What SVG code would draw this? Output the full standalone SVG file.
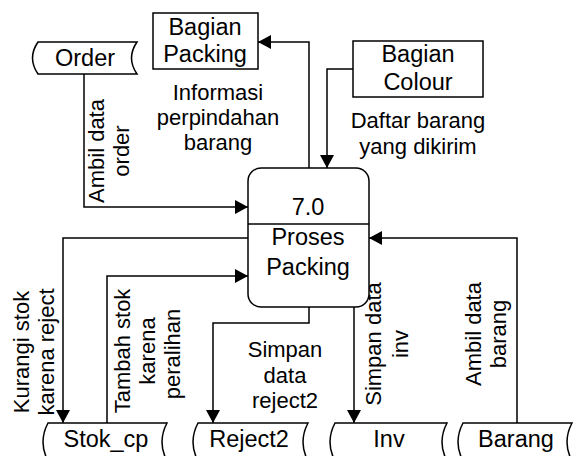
<svg xmlns="http://www.w3.org/2000/svg" width="573" height="456" viewBox="0 0 573 456">
<style>
  .s{fill:#fff;stroke:#000;stroke-width:1.5}
  .t{font-family:"Liberation Sans",Arial,sans-serif;font-size:22px;fill:#000;text-anchor:middle}
  .n{font-size:23.5px}
  .c{fill:none;stroke:#000;stroke-width:1.5}
</style>
<defs>
  <marker id="ah" markerWidth="14" markerHeight="14" refX="13" refY="7" orient="auto" markerUnits="userSpaceOnUse">
    <path d="M0,0 L13,7 L0,14 Z" fill="#000"/>
  </marker>
</defs>
<rect width="573" height="456" fill="#fff"/>
<g id="connectors">
  <path class="c" d="M84,74 L84,207 L248,207" marker-end="url(#ah)"/>
  <path class="c" d="M309,168 L309,42 L258,42" marker-end="url(#ah)"/>
  <path class="c" d="M353,69 L327,69 L327,168" marker-end="url(#ah)"/>
  <path class="c" d="M248,238 L63,238 L63,423" marker-end="url(#ah)"/>
  <path class="c" d="M107,423 L107,276 L248,276" marker-end="url(#ah)"/>
  <path class="c" d="M309,307 L309,323 L213,323 L213,423" marker-end="url(#ah)"/>
  <path class="c" d="M354,307 L354,423" marker-end="url(#ah)"/>
  <path class="c" d="M517,423 L517,238 L369,238" marker-end="url(#ah)"/>
</g>
<g id="labels">
  <text class="t" transform="translate(104,151) rotate(-90)">Ambil data</text>
  <text class="t" transform="translate(129,151) rotate(-90)">order</text>
  <text class="t" x="218" y="100">Informasi</text>
  <text class="t" x="218" y="125">perpindahan</text>
  <text class="t" x="218" y="150">barang</text>
  <text class="t" x="418" y="128">Daftar barang</text>
  <text class="t" x="418" y="154">yang dikirim</text>
  <text class="t" transform="translate(29,352) rotate(-90)">Kurangi stok</text>
  <text class="t" transform="translate(54,352) rotate(-90)">karena reject</text>
  <text class="t" transform="translate(130,351) rotate(-90)">Tambah stok</text>
  <text class="t" transform="translate(155,351) rotate(-90)">karena</text>
  <text class="t" transform="translate(180,354) rotate(-90)">peralihan</text>
  <text class="t" x="285" y="357">Simpan</text>
  <text class="t" x="285" y="383">data</text>
  <text class="t" x="285" y="408">reject2</text>
  <text class="t" transform="translate(381,344) rotate(-90)">Simpan data</text>
  <text class="t" transform="translate(408,344) rotate(-90)">inv</text>
  <text class="t" transform="translate(481,334) rotate(-90)">Ambil data</text>
  <text class="t" transform="translate(506,334) rotate(-90)">barang</text>
</g>
<g id="order">
  <path class="s" d="M38,42 L137,42 Q126,58 137,74 L38,74 Q27,58 38,42 Z"/>
  <text class="t n" x="85" y="66">Order</text>
</g>
<g id="bagian-packing">
  <rect class="s" x="153" y="13" width="105" height="56"/>
  <text class="t n" x="205" y="35">Bagian</text>
  <text class="t n" x="205" y="62">Packing</text>
</g>
<g id="bagian-colour">
  <rect class="s" x="353" y="41" width="130" height="56"/>
  <text class="t n" x="418" y="62">Bagian</text>
  <text class="t n" x="418" y="90">Colour</text>
</g>
<g id="process">
  <rect class="s" x="248" y="168" width="121" height="139" rx="13"/>
  <line class="c" x1="248" y1="224" x2="369" y2="224"/>
  <text class="t n" x="308" y="215">7.0</text>
  <text class="t n" x="308" y="245">Proses</text>
  <text class="t n" x="308" y="275">Packing</text>
</g>
<g id="stok-cp">
  <path class="s" d="M48,423 L167,423 Q157,442 167,461 L48,461 Q38,442 48,423 Z"/>
  <text class="t n" x="106" y="447">Stok_cp</text>
</g>
<g id="reject2">
  <path class="s" d="M198,423 L308,423 Q298,442 308,461 L198,461 Q188,442 198,423 Z"/>
  <text class="t n" x="249" y="447">Reject2</text>
</g>
<g id="inv">
  <path class="s" d="M335,423 L447,423 Q437,442 447,461 L335,461 Q325,442 335,423 Z"/>
  <text class="t n" x="389" y="447">Inv</text>
</g>
<g id="barang">
  <path class="s" d="M463,423 L572,423 Q562,442 572,461 L463,461 Q453,442 463,423 Z"/>
  <text class="t n" x="516" y="447">Barang</text>
</g>
</svg>
